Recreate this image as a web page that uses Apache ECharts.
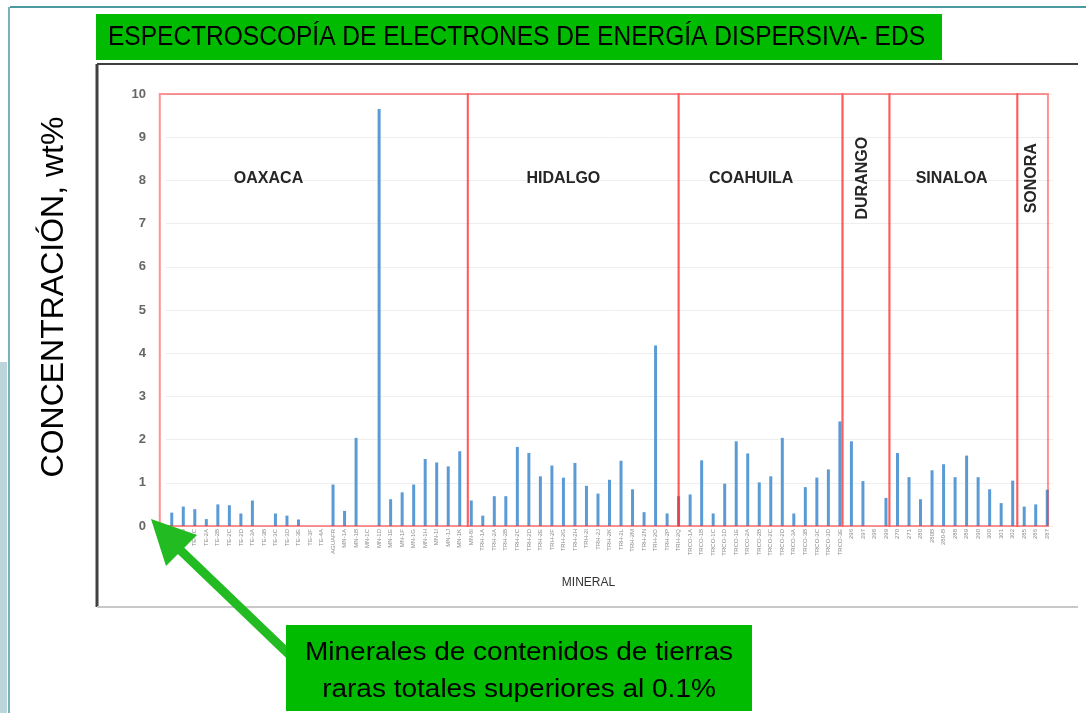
<!DOCTYPE html>
<html>
<head>
<meta charset="utf-8">
<script src="https://cdn.jsdelivr.net/npm/echarts@6/dist/echarts.min.js"></script>
<style>
  html, body { margin: 0; padding: 0; background: #fff; }
  #chart { width: 1086px; height: 713px; }
</style>
</head>
<body>
<div id="chart"></div>
<script>
// muestras (eje X)
var minerales = [
  'TE-1A','TE-1B','TE-1C','TE-2A','TE-2B','TE-2C','TE-2D','TE-3A','TE-3B','TE-3C','TE-3D','TE-3E','TE-3F',
  'TE-4A','AGUAFR','MN-1A','MN-1B','MN-1C','MN-1D','MN-1E','MN-1F','MN-1G','MN-1H','MN-1I','MN-1J','MN-1K',
  'MN-8I',
  'TRH-1A','TRH-2A','TRH-2B','TRH-2C','TRH-2D','TRH-2E','TRH-2F','TRH-2G','TRH-2H','TRH-2I','TRH-2J',
  'TRH-2K','TRH-2L','TRH-2M','TRH-2N','TRH-2O','TRH-2P','TRH-2Q',
  'TRCO-1A','TRCO-1B','TRCO-1C','TRCO-1D','TRCO-1E','TRCO-2A','TRCO-2B','TRCO-2C','TRCO-2D',
  'TRCO-3A','TRCO-3B','TRCO-3C','TRCO-3D','TRCO-3E',
  '296','297','298','299',
  '270','271','280','280B','280-B','288','289','290','300','301','302',
  '285','286','287'
];
// concentracion wt%
var concentracion = [
  0.31,0.45,0.39,0.16,0.50,0.48,0.29,0.59,0,0.29,0.24,0.15,0,
  0,0.96,0.35,2.04,0,9.65,0.62,0.78,0.96,1.55,1.47,1.38,1.73,
  0.59,
  0.24,0.69,0.69,1.83,1.69,1.15,1.40,1.12,1.46,0.93,0.75,
  1.07,1.51,0.85,0.32,4.18,0.29,0.69,
  0.73,1.52,0.29,0.98,1.96,1.68,1.01,1.15,2.04,
  0.29,0.90,1.12,1.31,2.42,
  1.96,1.04,0,0.65,
  1.69,1.13,0.62,1.29,1.43,1.13,1.63,1.13,0.85,0.53,1.05,
  0.45,0.50,0.84
];
var yTicks = [0,1,2,3,4,5,6,7,8,9,10];

// estados (recuadros rojos), en indices de categoria
var estados = ['OAXACA','HIDALGO','COAHUILA','DURANGO','SINALOA','SONORA'];
var estadoInicio = [-1.04, 25.7, 44.0, 58.25, 62.3, 73.4];
var estadoFin = [25.7, 44.0, 58.2, 62.3, 73.4, 76.06];
var estadoEtiqueta = [8.4, 34.0, 50.3, 60.0, 67.7, 74.6];
var estadoVertical = [false, false, false, true, false, true];

var titulo = 'ESPECTROSCOPÍA DE ELECTRONES DE ENERGÍA DISPERSIVA- EDS';
var nota = ['Minerales de contenidos de tierras', 'raras totales superiores al 0.1%'];

// ancho de texto para comprimirlo como la fuente estrecha del original
function anchoTexto(txt, font) {
  var ctx = document.createElement('canvas').getContext('2d');
  ctx.font = font;
  return ctx.measureText(txt).width;
}
var fTitulo = '27px "Liberation Sans"';
var escTitulo = 817 / anchoTexto(titulo, fTitulo);
var fNota = '25px "Liberation Sans"';
var escNota = 428 / anchoTexto(nota[0], fNota);

var chart = echarts.init(document.getElementById('chart'));

var option = {
  backgroundColor: '#fff',
  animation: false,
  grid: { left: 166, right: 33, top: 94, bottom: 187 },
  xAxis: {
    type: 'category',
    data: minerales,
    name: 'MINERAL',
    nameLocation: 'middle',
    nameGap: 51,
    nameTextStyle: { fontSize: 12, color: '#333', fontFamily: 'Liberation Sans', padding: [0, 42, 0, 0] },
    axisLine: { show: false },
    axisTick: { show: false },
    axisLabel: { interval: 0, rotate: 90, fontSize: 6, color: '#8a8a8a', margin: 3, fontFamily: 'Liberation Sans' }
  },
  yAxis: {
    type: 'value',
    min: yTicks[0],
    max: yTicks[yTicks.length - 1],
    interval: 1,
    name: 'CONCENTRACIÓN, wt%',
    nameLocation: 'middle',
    nameGap: 96,
    nameRotate: 90,
    nameTextStyle: { fontSize: 32, color: '#000', fontFamily: 'Liberation Sans', padding: [0, 0, 0, 26] },
    axisLine: { show: false },
    axisTick: { show: false },
    axisLabel: { fontSize: 13, color: '#666', fontWeight: 'bold', margin: 20, fontFamily: 'Liberation Sans' },
    splitLine: { lineStyle: { color: '#eeeeee', width: 1 } }
  },
  series: [
    {
      name: 'Concentración',
      type: 'bar',
      data: concentracion,
      barWidth: 3,
      itemStyle: { color: '#5b9bd5' }
    },
    {
      name: 'Estados',
      type: 'custom',
      data: estados.map(function (n, i) { return [i, 0]; }),
      z: 5,
      silent: true,
      renderItem: function (params, api) {
        var i = params.dataIndex;
        var x0 = api.coord([0, 0])[0];
        var band = api.size([1, 0])[0];
        var yTop = api.coord([0, 10])[1];
        var yBot = api.coord([0, 0])[1];
        var yLab = api.coord([0, 8.05])[1];
        var xa = x0 + estadoInicio[i] * band;
        var xb = x0 + estadoFin[i] * band;
        var xl = x0 + estadoEtiqueta[i] * band;
        return {
          type: 'group',
          children: [
            {
              type: 'rect',
              shape: { x: xa, y: yTop, width: xb - xa, height: yBot - yTop },
              style: { fill: 'none', stroke: 'rgba(255,40,40,0.5)', lineWidth: 2 }
            },
            {
              type: 'text',
              x: xl, y: yLab,
              rotation: estadoVertical[i] ? Math.PI / 2 : 0,
              style: {
                text: estados[i],
                fill: '#262626',
                font: 'bold 16px "Liberation Sans"',
                align: 'center',
                verticalAlign: 'middle'
              }
            }
          ]
        };
      }
    }
  ],
  graphic: [
    // marco de la diapositiva
    { type: 'line', shape: { x1: 10, y1: 7, x2: 1086, y2: 7 }, style: { stroke: '#4a9aa0', lineWidth: 2 } },
    { type: 'line', shape: { x1: 9, y1: 7, x2: 9, y2: 713 }, style: { stroke: '#4a9aa0', lineWidth: 1.5 } },
    { type: 'rect', shape: { x: 0, y: 362, width: 7, height: 351 }, style: { fill: '#bcd5da' } },
    // marco del grafico
    { type: 'line', shape: { x1: 97, y1: 64, x2: 1078, y2: 64 }, style: { stroke: '#404040', lineWidth: 2 } },
    { type: 'line', shape: { x1: 97, y1: 64, x2: 97, y2: 607 }, style: { stroke: '#404040', lineWidth: 3 } },
    { type: 'line', shape: { x1: 97, y1: 607, x2: 1078, y2: 607 }, style: { stroke: '#c8c8c8', lineWidth: 2 } },
    // titulo
    { type: 'rect', shape: { x: 96, y: 14, width: 846, height: 46 }, style: { fill: '#00bb00' } },
    {
      type: 'text', x: 108, y: 38, scaleX: escTitulo,
      style: { text: titulo, fill: '#000', font: fTitulo, align: 'left', verticalAlign: 'middle' }
    },
    // flecha
    { type: 'line', z: 10, shape: { x1: 176, y1: 546, x2: 300, y2: 665 }, style: { stroke: '#22bb22', lineWidth: 9 } },
    { type: 'polygon', z: 10, shape: { points: [[151, 519], [197, 535], [166, 566]] }, style: { fill: '#22bb22' } },
    // nota
    { type: 'rect', z: 11, shape: { x: 286, y: 625, width: 466, height: 86 }, style: { fill: '#00bb00' } },
    {
      type: 'text', z: 12, x: 519, y: 672, scaleX: escNota,
      style: { text: nota.join('\n'), fill: '#000', font: fNota, lineHeight: 37, align: 'center', verticalAlign: 'middle' }
    }
  ]
};

chart.setOption(option);
</script>
</body>
</html>
